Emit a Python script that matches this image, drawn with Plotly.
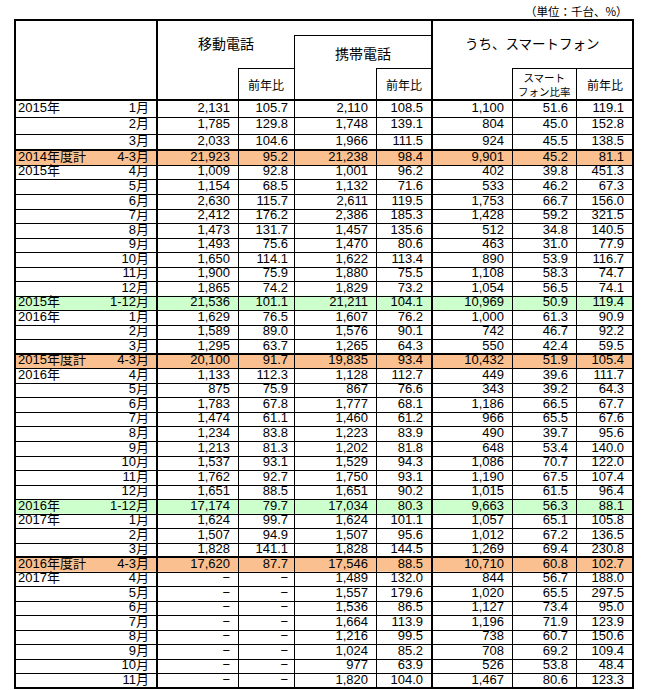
import plotly.graph_objects as go

# ---------------- data ----------------
year_labels = ["2015年", "", "", "2014年度計",
               "2015年", "", "", "", "", "", "", "", "", "2015年",
               "2016年", "", "", "2015年度計",
               "2016年", "", "", "", "", "", "", "", "", "2016年",
               "2017年", "", "", "2016年度計",
               "2017年", "", "", "", "", "", "", ""]
period_labels = ["1月", "2月", "3月", "4-3月",
                 "4月", "5月", "6月", "7月", "8月", "9月", "10月", "11月", "12月", "1-12月",
                 "1月", "2月", "3月", "4-3月",
                 "4月", "5月", "6月", "7月", "8月", "9月", "10月", "11月", "12月", "1-12月",
                 "1月", "2月", "3月", "4-3月",
                 "4月", "5月", "6月", "7月", "8月", "9月", "10月", "11月"]

mobile_units = [2131, 1785, 2033, 21923,
                1009, 1154, 2630, 2412, 1473, 1493, 1650, 1900, 1865, 21536,
                1629, 1589, 1295, 20100,
                1133, 875, 1783, 1474, 1234, 1213, 1537, 1762, 1651, 17174,
                1624, 1507, 1828, 17620,
                None, None, None, None, None, None, None, None]
mobile_yoy = [105.7, 129.8, 104.6, 95.2,
              92.8, 68.5, 115.7, 176.2, 131.7, 75.6, 114.1, 75.9, 74.2, 101.1,
              76.5, 89.0, 63.7, 91.7,
              112.3, 75.9, 67.8, 61.1, 83.8, 81.3, 93.1, 92.7, 88.5, 79.7,
              99.7, 94.9, 141.1, 87.7,
              None, None, None, None, None, None, None, None]
keitai_units = [2110, 1748, 1966, 21238,
                1001, 1132, 2611, 2386, 1457, 1470, 1622, 1880, 1829, 21211,
                1607, 1576, 1265, 19835,
                1128, 867, 1777, 1460, 1223, 1202, 1529, 1750, 1651, 17034,
                1624, 1507, 1828, 17546,
                1489, 1557, 1536, 1664, 1216, 1024, 977, 1820]
keitai_yoy = [108.5, 139.1, 111.5, 98.4,
              96.2, 71.6, 119.5, 185.3, 135.6, 80.6, 113.4, 75.5, 73.2, 104.1,
              76.2, 90.1, 64.3, 93.4,
              112.7, 76.6, 68.1, 61.2, 83.9, 81.8, 94.3, 93.1, 90.2, 80.3,
              101.1, 95.6, 144.5, 88.5,
              132.0, 179.6, 86.5, 113.9, 99.5, 85.2, 63.9, 104.0]
smart_units = [1100, 804, 924, 9901,
               402, 533, 1753, 1428, 512, 463, 890, 1108, 1054, 10969,
               1000, 742, 550, 10432,
               449, 343, 1186, 966, 490, 648, 1086, 1190, 1015, 9663,
               1057, 1012, 1269, 10710,
               844, 1020, 1127, 1196, 738, 708, 526, 1467]
smart_ratio = [51.6, 45.0, 45.5, 45.2,
               39.8, 46.2, 66.7, 59.2, 34.8, 31.0, 53.9, 58.3, 56.5, 50.9,
               61.3, 46.7, 42.4, 51.9,
               39.6, 39.2, 66.5, 65.5, 39.7, 53.4, 70.7, 67.5, 61.5, 56.3,
               65.1, 67.2, 69.4, 60.8,
               56.7, 65.5, 73.4, 71.9, 60.7, 69.2, 53.8, 80.6]
smart_yoy = [119.1, 152.8, 138.5, 81.1,
             451.3, 67.3, 156.0, 321.5, 140.5, 77.9, 116.7, 74.7, 74.1, 119.4,
             90.9, 92.2, 59.5, 105.4,
             111.7, 64.3, 67.7, 67.6, 95.6, 140.0, 122.0, 107.4, 96.4, 88.1,
             105.8, 136.5, 230.8, 102.7,
             188.0, 297.5, 95.0, 123.9, 150.6, 109.4, 48.4, 123.3]

header_main = ["移動電話", "携帯電話", "うち、スマートフォン"]
header_sub = ["前年比", "前年比", "スマート<br>フォン比率", "前年比"]
unit_note = "（単位：千台、%）"

# ---------------- layout geometry (window pixel coordinates) ----------------
W, H = 656, 690

cols = [15, 157, 238, 294, 376, 432, 512, 576, 633]
top, keitai_top, sub_top, head_bot = 20, 35, 68, 100
n = len(period_labels)
heights = [16.8, 16.8, 16.8] + [14.53] * (n - 3)
row_tops = [head_bot]
for h in heights:
    row_tops.append(row_tops[-1] + h)
bottom = row_tops[-1]
centers = [(row_tops[i] + row_tops[i + 1]) / 2 for i in range(n)]

FY_FILL = "#FAC090"
CY_FILL = "#CCFFCC"
FONT = "Liberation Sans, Arial, Noto Sans CJK JP, sans-serif"
JFONT = "Noto Sans CJK JP, sans-serif"

shapes = []
kinds = []
for i, y in enumerate(year_labels):
    if "年度計" in y:
        kinds.append("fy")
    elif period_labels[i] == "1-12月":
        kinds.append("cy")
    else:
        kinds.append("m")

for i, k in enumerate(kinds):
    if k != "m":
        shapes.append(dict(type="rect", x0=cols[0], x1=cols[-1], y0=row_tops[i], y1=row_tops[i + 1],
                           fillcolor=FY_FILL if k == "fy" else CY_FILL, line=dict(width=0), layer="below"))


def hline(y, x0, x1, w=1):
    off = 0.5 if w == 1 else 0
    shapes.append(dict(type="line", x0=x0, x1=x1, y0=round(y) + off, y1=round(y) + off,
                       line=dict(color="black", width=w)))


def vline(x, y0, y1, w=1):
    off = 0.5 if w == 1 else 0
    shapes.append(dict(type="line", x0=round(x) + off, x1=round(x) + off, y0=y0, y1=y1,
                       line=dict(color="black", width=w)))


# row lines
for i in range(1, n):
    w = 2 if kinds[i] == "fy" else 1
    hline(row_tops[i], cols[0], cols[-1], w)
# header inner lines
hline(keitai_top, cols[3], cols[5])
hline(sub_top, cols[2], cols[3])
hline(sub_top, cols[4], cols[5])
hline(sub_top, cols[6], cols[8])
# vertical lines
vline(cols[2], sub_top, bottom)
vline(cols[3], keitai_top, bottom)
vline(cols[4], sub_top, bottom)
vline(cols[6], sub_top, bottom)
vline(cols[7], sub_top, bottom)
vline(cols[1], top, bottom, 2)
vline(cols[5], top, bottom, 2)
# outer border and header bottom
hline(head_bot, cols[0], cols[-1], 2)
shapes.append(dict(type="rect", x0=cols[0], x1=cols[-1], y0=top, y1=bottom,
                   line=dict(color="black", width=2), fillcolor="rgba(0,0,0,0)"))


def fmt_int(v):
    return "−" if v is None else f"{v:,}"


def fmt_pct(v):
    return "−" if v is None else f"{v:.1f}"


fig = go.Figure()
textfont = dict(family=FONT, size=13, color="black")

columns = [
    (cols[2] - 8, [fmt_int(v) for v in mobile_units]),
    (cols[3] - 6, [fmt_pct(v) for v in mobile_yoy]),
    (cols[4] - 8, [fmt_int(v) for v in keitai_units]),
    (cols[5] - 9, [fmt_pct(v) for v in keitai_yoy]),
    (cols[6] - 8, [fmt_int(v) for v in smart_units]),
    (cols[7] - 8, [fmt_pct(v) for v in smart_ratio]),
    (cols[8] - 9, [fmt_pct(v) for v in smart_yoy]),
]
for xr, texts in columns:
    fig.add_trace(go.Scatter(x=[xr] * n, y=centers, mode="text", text=texts,
                             textposition="middle left", textfont=textfont,
                             hoverinfo="skip", showlegend=False))

fig.add_trace(go.Scatter(x=[cols[0] + 3] * n, y=centers, mode="text", text=year_labels,
                         textposition="middle right", textfont=textfont,
                         hoverinfo="skip", showlegend=False))
fig.add_trace(go.Scatter(x=[cols[1] - 8] * n, y=centers, mode="text", text=period_labels,
                         textposition="middle left", textfont=textfont,
                         hoverinfo="skip", showlegend=False))

annotations = [
    dict(x=(cols[1] + cols[3]) / 2, y=(top + sub_top) / 2 - 1, text=header_main[0],
         font=dict(family=JFONT, size=14)),
    dict(x=(cols[3] + cols[5]) / 2, y=(keitai_top + sub_top) / 2 + 1, text=header_main[1],
         font=dict(family=JFONT, size=14)),
    dict(x=(cols[5] + cols[8]) / 2, y=(top + sub_top) / 2 - 1, text=header_main[2],
         font=dict(family=JFONT, size=13.5)),
    dict(x=(cols[2] + cols[3]) / 2, y=(sub_top + head_bot) / 2, text=header_sub[0],
         font=dict(family=JFONT, size=12)),
    dict(x=(cols[4] + cols[5]) / 2, y=(sub_top + head_bot) / 2, text=header_sub[1],
         font=dict(family=JFONT, size=12)),
    dict(x=(cols[6] + cols[7]) / 2, y=(sub_top + head_bot) / 2, text=header_sub[2],
         font=dict(family=JFONT, size=10.5)),
    dict(x=(cols[7] + cols[8]) / 2, y=(sub_top + head_bot) / 2, text=header_sub[3],
         font=dict(family=JFONT, size=12)),
    dict(x=cols[-1] - 3, y=11, text=unit_note, xanchor="right",
         font=dict(family=JFONT, size=11.5)),
]
for a in annotations:
    a.update(xref="x", yref="y", showarrow=False)
    a.setdefault("xanchor", "center")
    a["font"]["color"] = "black"

fig.update_layout(
    width=W, height=H, margin=dict(l=0, r=0, t=0, b=0),
    paper_bgcolor="white", plot_bgcolor="white",
    xaxis=dict(range=[0, W], visible=False, fixedrange=True),
    yaxis=dict(range=[H, 0], visible=False, fixedrange=True),
    shapes=shapes, annotations=annotations, showlegend=False,
)
fig.write_html(
    "out.html",
    config={"displayModeBar": False, "staticPlot": True},
    post_script="document.body.style.margin='0px';document.body.style.overflow='hidden';",
)
